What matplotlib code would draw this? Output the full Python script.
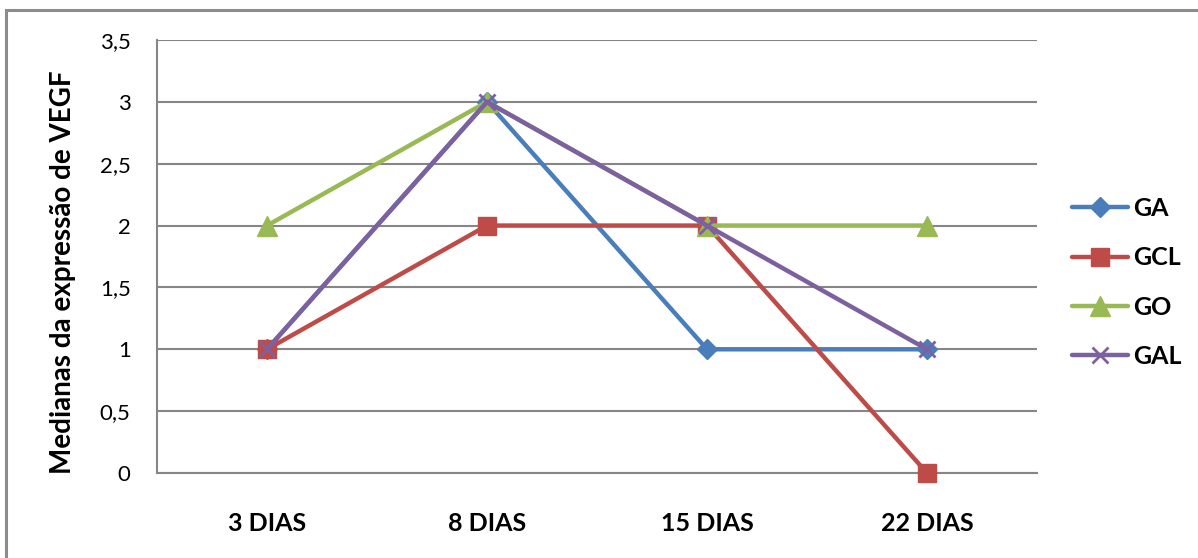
import matplotlib
matplotlib.use("Agg")
import matplotlib.pyplot as plt
from matplotlib.patches import Rectangle

categories = ["3 DIAS", "8 DIAS", "15 DIAS", "22 DIAS"]
ga = [1, 3, 1, 1]
gcl = [1, 2, 2, 0]
go = [2, 3, 2, 2]
gal = [1, 3, 2, 1]
y_ticks = [0, 0.5, 1, 1.5, 2, 2.5, 3, 3.5]
y_tick_labels = ["0", "0,5", "1", "1,5", "2", "2,5", "3", "3,5"]

plt.rcParams["font.family"] = ["Lato", "DejaVu Sans"]

W, H = 1198, 558
fig = plt.figure(figsize=(W / 100, H / 100), dpi=100)
fig.patch.set_facecolor("white")

# outer chart frame
fig.add_artist(Rectangle((6 / W, -0.05), 1.2, 1 - 10 / H + 0.05,
                         transform=fig.transFigure, fill=False,
                         edgecolor="#8c8c8c", linewidth=2.2))

ax = fig.add_axes([157 / W, (H - 473) / H, 880 / W, 433 / H])
x = list(range(len(categories)))

series = [
    ("GA", ga, "#4a7ebb", "D", 10.5, 1),
    ("GCL", gcl, "#be4b48", "s", 12.5, 1),
    ("GO", go, "#98b954", "^", 15, 1),
    ("GAL", gal, "#7d60a0", "x", 11, 2),
]
for name, vals, col, mk, ms, mew in series:
    ax.plot(x, vals, color=col, linewidth=3.2, marker=mk, markersize=ms,
            markeredgewidth=mew, markerfacecolor=col, markeredgecolor=col,
            label=name, solid_capstyle="round", clip_on=False, zorder=3)

ax.set_xlim(-0.5, len(categories) - 0.5)
ax.set_ylim(0, 3.5)
ax.set_yticks(y_ticks)
ax.set_yticklabels(y_tick_labels, fontsize=16)
ax.set_xticks(x)
ax.set_xticklabels(categories, fontsize=18, fontweight="bold")
ax.tick_params(axis="y", length=0, pad=19)
ax.tick_params(axis="x", length=0, pad=28)
ax.grid(axis="y", color="#868686", linewidth=1.5)
ax.set_axisbelow(True)
for s in ["top", "right"]:
    ax.spines[s].set_visible(False)
for s in ["left", "bottom"]:
    ax.spines[s].set_color("#868686")
    ax.spines[s].set_linewidth(1.5)

ax.set_ylabel("Medianas da expressão de VEGF", fontsize=20, fontweight="bold")
ax.yaxis.set_label_coords(-81 / 880, 0.463)

leg = fig.legend(loc="upper left", bbox_to_anchor=(1072 / W, 1 - 197 / H),
                 frameon=False, prop={"weight": "bold", "size": 18},
                 handlelength=2.25, handletextpad=0.2, labelspacing=1.05,
                 borderpad=0, borderaxespad=0)

fig.savefig("out.png", dpi=100, facecolor="white")
